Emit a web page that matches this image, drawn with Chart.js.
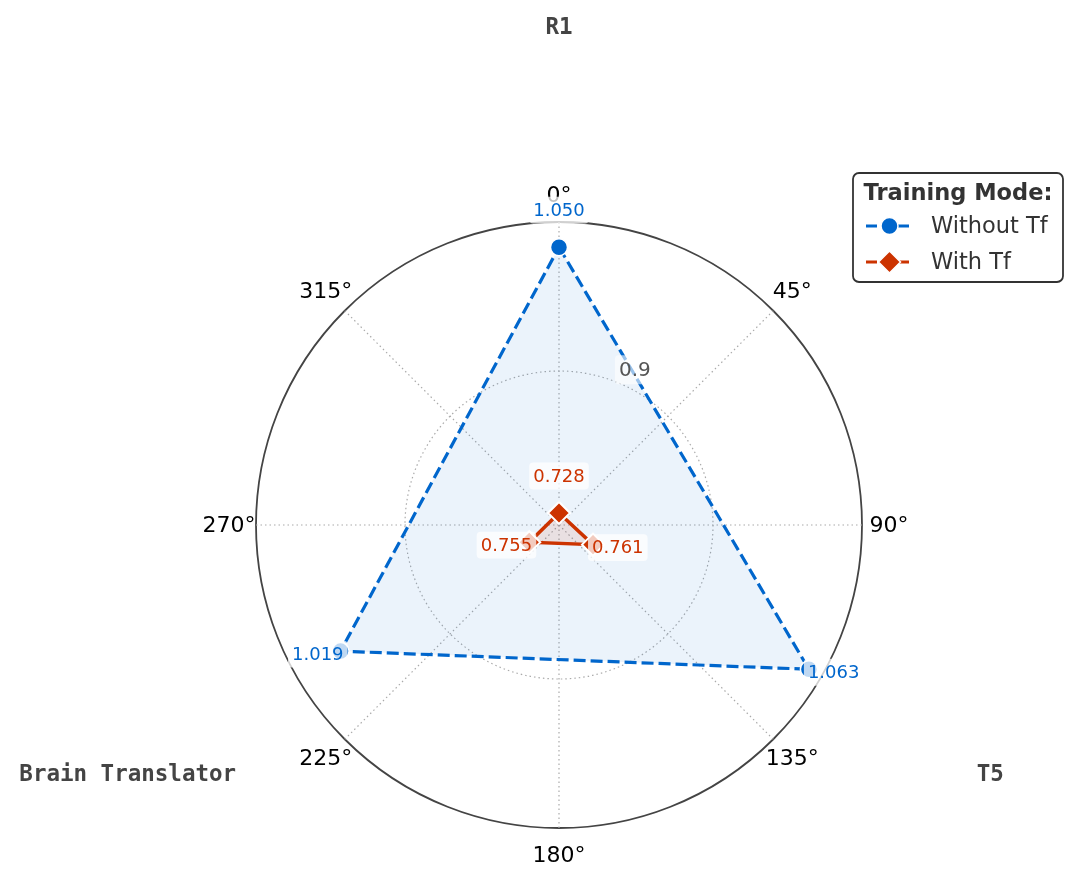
<!DOCTYPE html>
<html>
<head>
<meta charset="utf-8">
<script src="https://cdn.jsdelivr.net/npm/chart.js@4/dist/chart.umd.min.js"></script>
<style>
  html, body { margin: 0; padding: 0; background: #ffffff; }
  #wrap { width: 1080px; height: 882px; }
</style>
</head>
<body>
<div id="wrap"><canvas id="c" width="1080" height="882"></canvas></div>
<script>
// ---- data ----
const categories = ['R1', 'T5', 'Brain Translator'];
const seriesNames = ['Without Tf', 'With Tf'];
const withoutTf = [1.050, 1.063, 1.019];
const withTf = [0.728, 0.761, 0.755];
const angleTickLabels = ['0°', '45°', '90°', '135°', '180°', '225°', '270°', '315°'];
const radialTickValues = [0.9];
const legendTitle = 'Training Mode:';
const rMin = 0.7134;
const rMax = 1.0805;

// ---- angular slots (15° each) so that categories (120°) and angle grid (45°) coincide ----
const SLOTS = 24;
const catSlot = i => i * 8;
const angSlot = j => j * 3;
const slotLabels = Array.from({length: SLOTS}, (_, k) => String(k));
function spread(vals) {
  const arr = new Array(SLOTS).fill(null);
  vals.forEach((v, i) => { arr[catSlot(i)] = v; });
  return arr;
}

const BLUE = '#0066CC';
const RED = '#CC3300';
const FONT = "'DejaVu Sans', sans-serif";
const MONO = "'DejaVu Sans Mono', monospace";

function roundRect(ctx, x, y, w, h, r) {
  ctx.beginPath();
  ctx.moveTo(x + r, y);
  ctx.lineTo(x + w - r, y);
  ctx.arcTo(x + w, y, x + w, y + r, r);
  ctx.lineTo(x + w, y + h - r);
  ctx.arcTo(x + w, y + h, x + w - r, y + h, r);
  ctx.lineTo(x + r, y + h);
  ctx.arcTo(x, y + h, x, y + h - r, r);
  ctx.lineTo(x, y + r);
  ctx.arcTo(x, y, x + r, y, r);
  ctx.closePath();
}

function boxedText(ctx, text, cx, cy, align, color, size, alpha) {
  ctx.font = size + 'px ' + FONT;
  const w = ctx.measureText(text).width;
  let left = align === 'left' ? cx : align === 'right' ? cx - w : cx - w / 2;
  const pad = 4;
  const h = size * 1.05;
  ctx.save();
  ctx.fillStyle = 'rgba(255,255,255,' + alpha + ')';
  roundRect(ctx, left - pad, cy - h / 2 - pad, w + pad * 2, h + pad * 2, 4);
  ctx.fill();
  ctx.restore();
  ctx.fillStyle = color;
  ctx.textAlign = 'left';
  ctx.textBaseline = 'middle';
  ctx.fillText(text, left, cy + 1);
}

const angleLabelPlugin = {
  id: 'angleLabels',
  beforeDatasetsDraw(chart) {
    const s = chart.scales.r;
    const ctx = chart.ctx;
    ctx.save();
    ctx.font = '22px ' + FONT;
    ctx.fillStyle = '#000';
    ctx.textAlign = 'center';
    ctx.textBaseline = 'middle';
    angleTickLabels.forEach((t, j) => {
      const p = s.getPointPosition(angSlot(j), s.drawingArea + 27);
      ctx.fillText(t, p.x, p.y + 1);
    });
    ctx.restore();
  }
};

const overlayPlugin = {
  id: 'overlay',
  afterDatasetsDraw(chart) {
    const s = chart.scales.r;
    const ctx = chart.ctx;
    ctx.save();
    // radial tick label(s) at 22.5°
    radialTickValues.forEach(v => {
      const d = s.getDistanceFromCenterForValue(v);
      const a = 22.5 * Math.PI / 180;
      const x = s.xCenter + d * Math.sin(a) + 1;
      const y = s.yCenter - d * Math.cos(a) - 13;
      boxedText(ctx, String(v), x, y, 'left', '#555', 20, 0.6);
    });
    // data labels
    const series = [[withoutTf, BLUE, 0], [withTf, RED, 1]];
    series.forEach(([vals, col, di]) => {
      const meta = chart.getDatasetMeta(di);
      vals.forEach((v, i) => {
        const pt = meta.data[catSlot(i)];
        const txt = v.toFixed(3);
        if (i === 0) boxedText(ctx, txt, pt.x, pt.y - 37, 'center', col, 18, 0.75);
        else if (i === 1) boxedText(ctx, txt, pt.x - 1, pt.y + 3, 'left', col, 18, 0.75);
        else boxedText(ctx, txt, pt.x + 3, pt.y + 3, 'right', col, 18, 0.75);
      });
    });
    // category labels
    ctx.font = 'bold 22.5px ' + MONO;
    ctx.fillStyle = '#444';
    ctx.textAlign = 'center';
    ctx.textBaseline = 'middle';
    categories.forEach((c, i) => {
      const p = s.getPointPosition(catSlot(i), s.drawingArea * 1.6436);
      ctx.fillText(c, p.x, p.y + 1);
    });
    // legend
    const lx = 853, ly = 173, lw = 210, lh = 109;
    ctx.fillStyle = 'rgba(255,255,255,0.95)';
    roundRect(ctx, lx, ly, lw, lh, 6);
    ctx.fill();
    ctx.strokeStyle = '#333';
    ctx.lineWidth = 1.8;
    ctx.stroke();
    ctx.font = 'bold 22.5px ' + FONT;
    ctx.fillStyle = '#333';
    ctx.textAlign = 'center';
    ctx.fillText(legendTitle, lx + lw / 2, ly + 21);
    const entries = [[BLUE, 'circle', 8.5], [RED, 'rectRot', 11]];
    entries.forEach(([col, style, rad], k) => {
      const y = ly + 53 + k * 36;
      ctx.save();
      ctx.strokeStyle = col;
      ctx.lineWidth = 3;
      ctx.setLineDash([11, 5]);
      ctx.beginPath();
      ctx.moveTo(866, y);
      ctx.lineTo(913, y);
      ctx.stroke();
      ctx.restore();
      ctx.save();
      ctx.fillStyle = col;
      ctx.strokeStyle = '#fff';
      ctx.lineWidth = 1.5;
      Chart.helpers.drawPoint(ctx, {pointStyle: style, radius: rad, rotation: 0, borderWidth: 1.5}, 889.5, y);
      ctx.restore();
      ctx.font = '22.5px ' + FONT;
      ctx.fillStyle = '#333';
      ctx.textAlign = 'left';
      ctx.textBaseline = 'middle';
      ctx.fillText(seriesNames[k], 931, y + 1);
    });
    ctx.restore();
  }
};

new Chart(document.getElementById('c'), {
  type: 'radar',
  data: {
    labels: slotLabels,
    datasets: [
      {
        label: seriesNames[0],
        data: spread(withoutTf),
        order: 2,
        spanGaps: true,
        fill: true,
        backgroundColor: 'rgba(0,102,204,0.08)',
        borderColor: BLUE,
        borderWidth: 3.2,
        borderDash: [12, 5],
        pointStyle: 'circle',
        pointRadius: 8.5,
        pointBackgroundColor: BLUE,
        pointBorderColor: '#ffffff',
        pointBorderWidth: 1.5,
        tension: 0
      },
      {
        label: seriesNames[1],
        data: spread(withTf),
        order: 1,
        spanGaps: true,
        fill: true,
        backgroundColor: 'rgba(204,51,0,0.1)',
        borderColor: RED,
        borderWidth: 3.5,
        pointStyle: 'rectRot',
        pointRadius: 11,
        pointBackgroundColor: RED,
        pointBorderColor: '#ffffff',
        pointBorderWidth: 2,
        tension: 0
      }
    ]
  },
  options: {
    responsive: false,
    animation: false,
    layout: { padding: { left: 40, right: 2, top: 222, bottom: 54 } },
    plugins: { legend: { display: false }, tooltip: { enabled: false } },
    scales: {
      r: {
        min: rMin,
        max: rMax,
        startAngle: 0,
        afterBuildTicks: (sc) => {
          sc.ticks = [{value: rMin}].concat(radialTickValues.map(v => ({value: v}))).concat([{value: rMax}]);
        },
        grid: {
          circular: true,
          color: (c) => (c.tick && c.tick.value === rMax) ? '#444' : '#aaa',
          lineWidth: (c) => (c.tick && c.tick.value === rMax) ? 1.8 : 1.2
        },
        border: {
          dash: (c) => (c.tick && c.tick.value === rMax) ? [] : [1.5, 3]
        },
        angleLines: {
          color: '#aaa',
          lineWidth: (c) => (c.index % 3 === 0) ? 1.2 : 0,
          borderDash: [1.5, 3]
        },
        pointLabels: { display: false },
        ticks: { display: false }
      }
    }
  },
  plugins: [angleLabelPlugin, overlayPlugin]
});
</script>
</body>
</html>
